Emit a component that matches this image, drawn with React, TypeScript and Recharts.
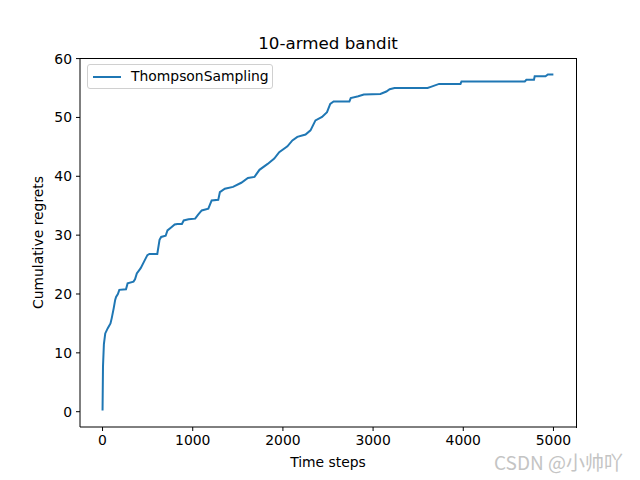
import React from "react";
import {
  LineChart,
  Line,
  XAxis,
  YAxis,
} from "recharts";

// time step at each corner of the regret curve
const steps = [
  0, 5, 15, 30, 58, 88, 102, 124, 140, 150, 170, 186, 260, 278, 343, 360, 380,
  423, 460, 497, 520, 607, 632, 650, 700, 720, 760, 800, 830, 880, 900, 954,
  1027, 1060, 1100, 1173, 1210, 1283, 1301, 1356, 1447, 1538, 1612, 1685, 1740,
  1831, 1904, 1959, 2050, 2105, 2160, 2251, 2306, 2361, 2434, 2489, 2525, 2562,
  2737, 2752, 2836, 2897, 3081, 3147, 3184, 3238, 3604, 3640, 3732, 3969, 3980,
  4682, 4700, 4784, 4792, 4912, 4938, 4999,
];

const regrets = [
  0.2, 7.7, 11.5, 13.3, 14.2, 15.0, 15.9, 17.6, 19.0, 19.5, 20.0, 20.7, 20.8,
  21.8, 22.1, 22.5, 23.5, 24.4, 25.5, 26.6, 26.8, 26.8, 29.2, 29.7, 29.9, 30.8,
  31.3, 31.8, 31.9, 31.9, 32.5, 32.7, 32.8, 33.5, 34.2, 34.5, 35.9, 36.0, 37.3,
  37.9, 38.2, 38.9, 39.7, 39.9, 41.1, 42.1, 43.0, 44.1, 45.1, 46.1, 46.7, 47.1,
  47.8, 49.5, 50.1, 50.9, 52.3, 52.7, 52.7, 53.3, 53.6, 53.9, 54.0, 54.4, 54.8,
  55.0, 55.0, 55.2, 55.7, 55.7, 56.1, 56.1, 56.4, 56.4, 57.0, 57.0, 57.3, 57.3,
];

const xTicks = [0, 1000, 2000, 3000, 4000, 5000];
const yTicks = [0, 10, 20, 30, 40, 50, 60];

const data = steps.map((t, i) => ({ t, regret: regrets[i] }));

const FONT = "'DejaVu Sans', sans-serif";
const BLUE = "#1f77b4";
const tickStyle = { fill: "#000", fontSize: 13.9, fontFamily: FONT };

function LegendBox() {
  return (
    <div
      style={{
        position: "absolute",
        left: 87,
        top: 64,
        width: 186,
        height: 25,
        border: "1px solid #d0d0d0",
        borderRadius: 3,
        background: "rgba(255,255,255,0.8)",
        fontFamily: FONT,
        fontSize: 13.9,
        boxSizing: "border-box",
      }}
    >
      <div
        style={{
          position: "absolute",
          left: 5,
          top: 10.5,
          width: 28,
          height: 2,
          background: BLUE,
        }}
      />
      <span style={{ position: "absolute", left: 43, top: 3, whiteSpace: "nowrap" }}>
        ThompsonSampling
      </span>
    </div>
  );
}

export default function App() {
  return (
    <div style={{ position: "absolute", left: 0, top: 0, width: 640, height: 480, background: "#fff" }}>
      <div
        style={{
          position: "absolute",
          left: 0,
          top: 33,
          width: 656,
          textAlign: "center",
          fontFamily: FONT,
          fontSize: 16.7,
        }}
      >
        10-armed bandit
      </div>
      <LineChart
        width={640}
        height={480}
        data={data}
        margin={{ top: 58, right: 64, bottom: 0, left: 0 }}
      >
        <XAxis
          dataKey="t"
          type="number"
          domain={[-250, 5250]}
          ticks={xTicks}
          allowDataOverflow
          height={53}
          tickSize={4}
          tickMargin={4}
          stroke="#000"
          tick={tickStyle}
          label={{
            value: "Time steps",
            position: "insideBottom",
            offset: 13,
            style: { fill: "#000", fontSize: 13.9, fontFamily: FONT },
          }}
        />
        <YAxis
          type="number"
          domain={[-2.6, 60.1]}
          ticks={yTicks}
          allowDataOverflow
          width={80}
          tickSize={4}
          tickMargin={4}
          stroke="#000"
          tick={tickStyle}
          label={{
            value: "Cumulative regrets",
            angle: -90,
            position: "insideLeft",
            offset: 38,
            style: { fill: "#000", fontSize: 13.9, fontFamily: FONT, textAnchor: "middle" },
          }}
        />
        <Line
          type="linear"
          dataKey="regret"
          name="ThompsonSampling"
          stroke={BLUE}
          strokeWidth={2}
          dot={false}
          isAnimationActive={false}
        />
      </LineChart>
      {/* axes frame (top and right spines) */}
      <div
        style={{
          position: "absolute",
          left: 80,
          top: 58,
          width: 497,
          height: 370,
          borderTop: "1px solid #000",
          borderRight: "1px solid #000",
          boxSizing: "border-box",
          pointerEvents: "none",
        }}
      />
      <LegendBox />
      <div
        style={{
          position: "absolute",
          left: 494,
          top: 448,
          fontFamily: "'Noto Sans CJK SC', 'DejaVu Sans', sans-serif",
          fontSize: 19,
          color: "#c4c4c4",
          whiteSpace: "nowrap",
        }}
      >
        CSDN @小帅吖
      </div>
    </div>
  );
}
